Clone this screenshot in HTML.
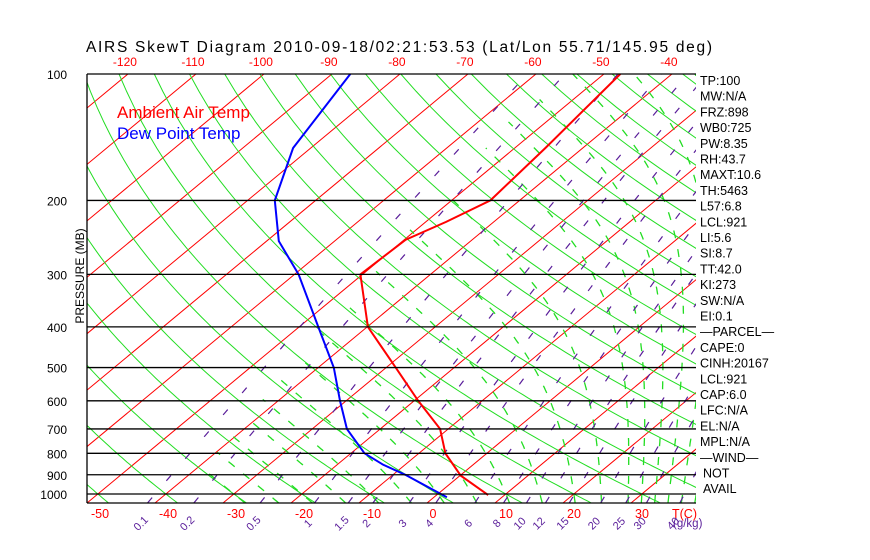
<!DOCTYPE html>
<html><head><meta charset="utf-8"><style>
html,body{margin:0;padding:0;background:#fff;}
svg{display:block;font-family:"Liberation Sans",sans-serif;}
</style></head><body>
<svg id="chart" width="870" height="560" viewBox="0 0 870 560">
<defs><clipPath id="plotclip"><rect x="87" y="74" width="609" height="429"/></clipPath></defs>
<text x="86" y="52" font-size="15.5" fill="#000" textLength="626">AIRS SkewT Diagram 2010-09-18/02:21:53.53 (Lat/Lon 55.71/145.95 deg)</text>
<g id="grid" clip-path="url(#plotclip)"></g>
<g id="frame"></g>
<g id="labels"></g>
<text x="84" y="276" font-size="12" fill="#000" transform="rotate(-90 84 276)" text-anchor="middle">PRESSURE (MB)</text>
<text x="117" y="118" font-size="17" fill="#ff0000">Ambient Air Temp</text>
<text x="117" y="139" font-size="17" fill="#0000ff">Dew Point Temp</text>
<g id="side" font-size="12.5" fill="#000"></g>
</svg>
<script>
const pressureTicks=[100,200,300,400,500,600,700,800,900,1000];
const topTempTicks=[-120,-110,-100,-90,-80,-70,-60,-50,-40];
const bottomTempTicks=[-50,-40,-30,-20,-10,0,10,20,30];
const isotherms=[-170,-160,-150,-140,-130,-120,-110,-100,-90,-80,-70,-60,-50,-40,-30,-20,-10,0,10,20,30,40,50];
const dryThetas=[-50,-40,-30,-20,-10,0,10,20,30,40,50,60,70,80,90,100,110,120,130,140,150,160,170,180,190,200];
const moistThetas=[-30,-25,-20,-15,-10,-5,0,5,10,15,20,24,28,30,32,34,36,38,40];
const mixRatios=[0.1,0.2,0.5,1,1.5,2,3,4,6,8,10,12,15,20,25,30,40];
const mixLabels=["0.1","0.2","0.5","1","1.5","2","3","4","6","8","10","12","15","20","25","30","40"];
const profP=[100,150,200,225,248,300,400,500,600,700,800,904,1006];
const profT=[-47.6,-45.5,-44.3,-47,-49.8,-50.3,-39.9,-28.6,-19.4,-11.2,-6.1,0.1,7.6];
const dewP=[100,150,200,250,300,400,500,600,700,800,852,900,1018];
const dewT=[-87.3,-82.6,-76,-68.2,-59.4,-47.2,-37.7,-30.9,-24.9,-18,-13.2,-8.2,1.9];
const sideText=["TP:100","MW:N/A","FRZ:898","WB0:725","PW:8.35","RH:43.7","MAXT:10.6","TH:5463","L57:6.8","LCL:921","LI:5.6","SI:8.7","TT:42.0","KI:273","SW:N/A","EI:0.1","\u2014PARCEL\u2014","CAPE:0","CINH:20167","LCL:921","CAP:6.0","LFC:N/A","EL:N/A","MPL:N/A","\u2014WIND\u2014","NOT","AVAIL"];

const NS="http://www.w3.org/2000/svg";
const K=182.4, Y0=74, YB=503;
function yP(p){return Y0+K*Math.log(p/100);}
function xT(t,y){return 87+6.8*(t+50)+(YB-y)*1.205;}
function mk(tag,parent){const e=document.createElementNS(NS,tag);parent.appendChild(e);return e;}
const grid=document.getElementById('grid'), frame=document.getElementById('frame'), labels=document.getElementById('labels'), side=document.getElementById('side');
function pathFrom(ps,ts){let d='';for(let i=0;i<ps.length;i++){const y=yP(ps[i]);d+=(i?'L':'M')+xT(ts[i],y).toFixed(1)+' '+y.toFixed(1);}return d;}
function pLevels(){const a=[];for(let p=1050;p>=100;p-=10)a.push(p);return a;}

isotherms.forEach(t=>{
  const l=mk('line',grid);
  
  
  l.setAttribute('x1',xT(t,YB));l.setAttribute('y1',YB);l.setAttribute('x2',xT(t,Y0));l.setAttribute('y2',Y0);
  l.setAttribute('stroke','#ff0000');l.setAttribute('stroke-width','1');
});
dryThetas.forEach(th=>{
  const ps=pLevels(), ts=ps.map(p=>(th+273.15)*Math.pow(p/1000,0.2857)-273.15);
  const e=mk('path',grid);
  
  
  e.setAttribute('d',pathFrom(ps,ts));e.setAttribute('fill','none');e.setAttribute('stroke','#22dd22');e.setAttribute('stroke-width','1');
});
function es(t){return 6.112*Math.exp(17.67*t/(t+243.5));}
function moist(tw){
  const Rd=287,cp=1005,L=2.5e6,eps=0.622;
  function dTdp(p,t){const T=t+273.15,e=es(t),rs=eps*e/(p-e);return (Rd*T+L*rs)/(p*(cp+L*L*rs*eps/(Rd*T*T)));}
  const up=[],down=[];let t=tw;
  for(let p=1000;p>=100;p-=5){
    const rs=622*es(t)/(p-es(t));
    if(rs<0.15)break;
    up.push([p,t]);t-=dTdp(p,t)*5;}
  t=tw;for(let p=1000;p<=1050;p+=5){down.push([p,t]);t+=dTdp(p,t)*5;}
  const all=down.reverse().concat(up.slice(1));
  return [all.map(a=>a[0]),all.map(a=>a[1])];
}
moistThetas.forEach(tw=>{
  const r=moist(tw);
  const e=mk('path',grid);
  
  
  e.setAttribute('d',pathFrom(r[0],r[1]));e.setAttribute('fill','none');e.setAttribute('stroke','#22dd22');e.setAttribute('stroke-width','1.3');e.setAttribute('stroke-dasharray','8 11');
});
function tFromW(w,p){const e=w*p/(622+w),l=Math.log(e/6.112);return 243.5*l/(17.67-l);}
mixRatios.forEach((w,i)=>{
  const ps=pLevels(),ts=ps.map(p=>tFromW(w,p));
  const e=mk('path',grid);
  
  
  e.setAttribute('d',pathFrom(ps,ts));e.setAttribute('fill','none');e.setAttribute('stroke','#5a1e9a');e.setAttribute('stroke-width','1.2');e.setAttribute('stroke-dasharray','7 22');
  const x=xT(tFromW(w,1050),YB)-4;
  const tx=mk('text',labels);
  
  
  tx.setAttribute('x',x);tx.setAttribute('y',526);tx.setAttribute('font-size','11');tx.setAttribute('fill','#5a1e9a');tx.setAttribute('text-anchor','middle');
  tx.setAttribute('transform','rotate(-45 '+x+' 526)');tx.textContent=mixLabels[i];
});
pressureTicks.forEach(p=>{
  const y=yP(p);
  if(p>100){const l=mk('line',frame);
    
    
    l.setAttribute('x1',87);l.setAttribute('x2',696);l.setAttribute('y1',y);l.setAttribute('y2',y);l.setAttribute('stroke','#000');l.setAttribute('stroke-width','1.3');}
  const t=mk('text',labels);
  
  
  t.setAttribute('x',67);t.setAttribute('y',y+5);t.setAttribute('font-size','12');t.setAttribute('text-anchor','end');t.textContent=p;
});
[[87,74,696,74],[87,503,696,503],[87,74,87,503]].forEach(a=>{
  const l=mk('line',frame);
  
  
  l.setAttribute('x1',a[0]);l.setAttribute('y1',a[1]);l.setAttribute('x2',a[2]);l.setAttribute('y2',a[3]);l.setAttribute('stroke','#000');l.setAttribute('stroke-width','1.3');
});
topTempTicks.forEach(t=>{
  const e=mk('text',labels);
  
  
  e.setAttribute('x',xT(t,Y0)-3);e.setAttribute('y',66);e.setAttribute('font-size','12');e.setAttribute('fill','#ff0000');e.setAttribute('text-anchor','middle');e.textContent=t;
});
bottomTempTicks.forEach(t=>{
  const e=mk('text',labels);
  
  
  e.setAttribute('x',xT(t,YB)+ (t<0?13:t===0?6:11));e.setAttribute('y',518);e.setAttribute('font-size','12.5');e.setAttribute('fill','#ff0000');e.setAttribute('text-anchor','middle');e.textContent=t;
});
const tc=mk('text',labels);


tc.setAttribute('x',672);tc.setAttribute('y',518);tc.setAttribute('font-size','12.5');tc.setAttribute('fill','#ff0000');tc.textContent='T(C)';
const gk=mk('text',labels);


gk.setAttribute('x',673);gk.setAttribute('y',527);gk.setAttribute('font-size','11.5');gk.setAttribute('fill','#5a1e9a');gk.textContent='(g/kg)';
const tp=mk('path',grid);


tp.setAttribute('d',pathFrom(profP,profT));tp.setAttribute('fill','none');tp.setAttribute('stroke','#ff0000');tp.setAttribute('stroke-width','2');
const dp=mk('path',grid);


dp.setAttribute('d',pathFrom(dewP,dewT));dp.setAttribute('fill','none');dp.setAttribute('stroke','#0000ff');dp.setAttribute('stroke-width','2');
sideText.forEach((s,i)=>{
  const e=mk('text',side);
  
  
  e.setAttribute('x',(s==='NOT'||s==='AVAIL')?703:700);e.setAttribute('y',85+i*15.7);e.textContent=s;
});
</script>
</body></html>
